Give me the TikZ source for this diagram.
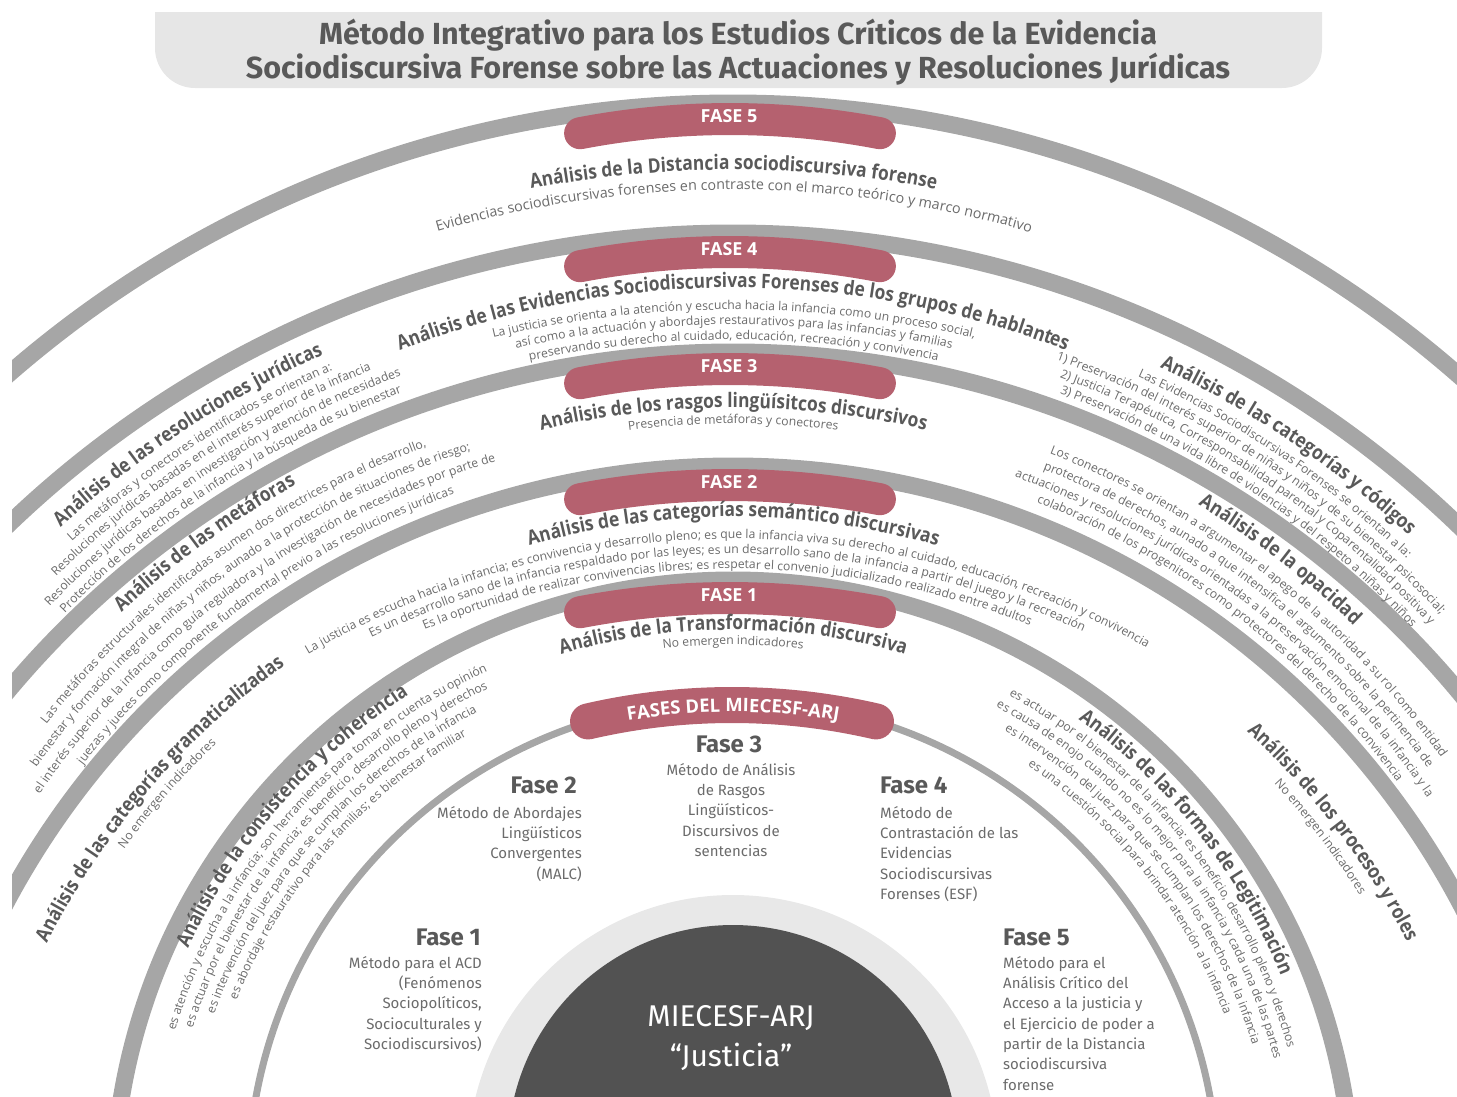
\documentclass[tikz,border=0pt]{standalone}
\usepackage{fontspec}
\setmainfont{Fira Sans}
\newfontfamily\arcfont{Open Sans}
\newfontfamily\arcbold[FakeStretch=0.87]{Open Sans}
\usetikzlibrary{decorations.text}

\definecolor{bandgray}{HTML}{A6A6A6}
\definecolor{rose}{HTML}{B5616F}
\definecolor{inkdark}{HTML}{595959}
\definecolor{inkbody}{HTML}{6B6B6B}
\definecolor{titlebg}{HTML}{E6E6E6}
\definecolor{ringlight}{HTML}{E8E8E8}
\definecolor{core}{HTML}{525252}

\newcommand{\ttl}{\color{inkdark}\arcbold\bfseries\fontsize{20}{22}\selectfont}
\newcommand{\bdy}{\color{inkbody}\arcfont\fontsize{12.2}{14}\selectfont}
\newcommand{\bdyL}{\color{inkbody}\arcfont\fontsize{14.3}{16}\selectfont}
\newcommand{\tagtx}{\color{white}\arcfont\bfseries\fontsize{18.5}{20}\selectfont}

% centre y, radius, middle angle, font, text
\newcommand{\arcline}[5]{%
	\path[decorate, decoration={text along path, text align=center, text={|#4|#5}}]
		([shift={(733,-#1)}]#3+70:#2pt) arc[start angle=#3+70, end angle=#3-70, radius=#2pt];}
% same, text starts at the given angle
\newcommand{\arcstart}[5]{%
	\path[decorate, decoration={text along path, text align=left, text={|#4|#5}}]
		([shift={(733,-#1)}]#3:#2pt) arc[start angle=#3, end angle=#3-100, radius=#2pt];}
% name, y of the middle of the pink cap, text
\newcommand{\faselabel}[3]{%
	\draw[rosecap] ([shift={(730,-#2-800)}]100.8:800pt) arc[start angle=100.8, end angle=79.2, radius=800pt];
	\node[fasetag] (#1) at (729,-#2+3) {#3};}

\tikzset{
	band/.style={draw=bandgray, line width=17pt},
	thinband/.style={draw=bandgray, line width=7pt},
	rosecap/.style={draw=rose, line width=32pt, line cap=round},
	fasetag/.style={text=white, font=\arcfont\bfseries\fontsize{18}{18}\selectfont, inner sep=0pt},
	fasehead/.style={text=inkdark, font=\bfseries\fontsize{24}{26}\selectfont, inner sep=0pt},
	metodo/.style={text=inkbody, font=\fontsize{15}{20.3}\selectfont, inner sep=0pt},
	coretext/.style={text=white, font=\fontsize{30}{32}\selectfont, inner sep=0pt}
}

\begin{document}
\begin{tikzpicture}[x=1pt, y=1pt]
	\useasboundingbox (0,0) rectangle (1457,-1096);

	\fill[titlebg] (155,-12) -- (155,-48) arc[start angle=180, end angle=270, radius=40pt] -- (1282,-88)
		arc[start angle=270, end angle=360, radius=40pt] -- (1322,-12) -- cycle;
	\node[align=center, text=inkdark, font=\bfseries\fontsize{30.5}{34}\selectfont] (heading) at (738,-52)
		{Método Integrativo para los Estudios Críticos de la Evidencia\\Sociodiscursiva Forense sobre las Actuaciones y Resoluciones Jurídicas};

	\begin{scope}
		\clip (12,0) rectangle (1457,-1096);
		\draw[band] (733,-1206) circle[radius=1103pt];
		\draw[band] (733,-1279) circle[radius=1046pt];
		\draw[band] (733,-1297) circle[radius=945pt];
		\draw[band] (733,-1289) circle[radius=823pt];
		\draw[band] (733,-1200) circle[radius=620pt];
		\draw[thinband] (733,-1185) circle[radius=485pt];
		\fill[ringlight] (733,-1160) circle[radius=265pt];
		\fill[core] (733,-1150) circle[radius=225pt];
	\end{scope}

	\faselabel{fase5tag}{119}{FASE 5}
	\faselabel{fase4tag}{252}{FASE 4}
	\faselabel{fase3tag}{369}{FASE 3}
	\faselabel{fase2tag}{485}{FASE 2}
	\faselabel{fase1tag}{598}{FASE 1}
	\draw[rosecap, line width=36pt] ([shift={(732,-1345)}]103:640pt) arc[start angle=103, end angle=77, radius=640pt];
	\arcline{1345}{633}{90}{\tagtx}{FASES DEL MIECESF-ARJ}

	% fase 5
	\arcline{1250}{1080}{90}{\ttl}{Análisis de la Distancia sociodiscursiva forense}
	\arcline{1250}{1060}{90}{\bdyL}{Evidencias sociodiscursivas forenses en contraste con el marco teórico y marco normativo}
	% fase 4
	\arcline{1205}{917}{90}{\ttl}{Análisis de las Evidencias Sociodiscursivas Forenses de los grupos de hablantes}
	\arcline{1350}{1040}{90}{\bdy}{La justicia se orienta a la atención y escucha hacia la infancia como un proceso social,}
	\arcline{1350}{1025}{90}{\bdy}{así como a la actuación y abordajes restaurativos para las infancias y familias}
	\arcline{1350}{1010}{90}{\bdy}{preservando su derecho al cuidado, educación, recreación y convivencia}
	\arcline{1265}{998}{123.3}{\ttl}{Análisis de las resoluciones jurídicas}
	\arcline{1265}{980}{123.3}{\bdy}{Las metáforas y conectores identificados se orientan a:}
	\arcline{1265}{965}{123.3}{\bdy}{Resoluciones jurídicas basadas en el interés superior de la infancia}
	\arcline{1265}{949}{123.3}{\bdy}{Resoluciones jurídicas basadas en investigación y atención de necesidades}
	\arcline{1265}{933}{123.3}{\bdy}{Protección de los derechos de la infancia y la búsqueda de su bienestar}
	\arcline{1265}{994}{55.9}{\ttl}{Análisis de las categorías y códigos}
	\arcline{1265}{976}{55.95}{\bdy}{Las Evidencias Sociodiscursivas Forenses se orientan a la:}
	\arcstart{1265}{961}{70.36}{\bdy}{1) Preservación del interés superior de niñas y niños y de su bienestar psicosocial;}
	\arcstart{1265}{946}{69.8}{\bdy}{2) Justicia Terapéutica, Corresponsabilidad parental y Coparentalidad positiva y}
	\arcstart{1265}{931}{69.44}{\bdy}{3) Preservación de una vida libre de violencias y del respeto a niñas y niños}
	% fase 3
	\arcline{1250}{842}{90}{\ttl}{Análisis de los rasgos lingüísitcos discursivos}
	\arcline{1250}{826}{90}{\bdy}{Presencia de metáforas y conectores}
	\arcline{1265}{894}{126.2}{\ttl}{Análisis de las metáforas}
	\arcline{1265}{874}{126.2}{\bdy}{Las metáforas estructurales identificadas asumen dos directrices para el desarrollo,}
	\arcline{1265}{856}{126.2}{\bdy}{bienestar y formación integral de niñas y niños, aunado a la protección de situaciones de riesgo;}
	\arcline{1265}{838}{126.2}{\bdy}{el interés superior de la infancia como guía reguladora y la investigación de necesidades por parte de}
	\arcline{1265}{820}{126.2}{\bdy}{juezas y jueces como componente fundamental previo a las resoluciones jurídicas}
	\arcline{1265}{891}{52.2}{\ttl}{Análisis de la opacidad}
	\arcline{1265}{871}{52.2}{\bdy}{Los conectores se orientan a argumentar el apego de la autoridad a su rol como entidad}
	\arcline{1265}{854}{52.2}{\bdy}{protectora de derechos, aunado a que intensifica el argumento sobre la pertinencia de}
	\arcline{1265}{837}{52.2}{\bdy}{actuaciones y resoluciones jurídicas orientadas a la preservación emocional de la infancia y la}
	\arcline{1265}{821}{52.2}{\bdy}{colaboración de los progenitores como protectores del derecho de la convivencia}
	% fase 2
	\arcline{1250}{733}{90}{\ttl}{Análisis de las categorías semántico discursivas}
	\arcline{1380}{841}{90.5}{\bdy}{La justicia es escucha hacia la infancia; es convivencia y desarrollo pleno; es que la infancia viva su derecho al cuidado, educación, recreación y convivencia}
	\arcline{1380}{826}{90.5}{\bdy}{Es un desarrollo sano de la infancia respaldado por las leyes; es un desarrollo sano de la infancia a partir del juego y la recreación}
	\arcline{1380}{811}{90.5}{\bdy}{Es la oportunidad de realizar convivencias libres; es respetar el convenio judicializado realizado entre adultos}
	\arcline{1289}{768}{139.5}{\ttl}{Análisis de las categorías gramaticalizadas}
	\arcline{1289}{751}{138.8}{\bdy}{No emergen indicadores}
	\arcline{1289}{758}{37.3}{\ttl}{Análisis de los procesos y roles}
	\arcline{1289}{740}{37.6}{\bdy}{No emergen indicadores}
	% fase 1
	\arcline{1250}{620}{90}{\ttl}{Análisis de la Transformación discursiva}
	\arcline{1250}{605}{90}{\bdy}{No emergen indicadores}
	\arcline{1200}{600}{139}{\ttl}{Análisis de la consistencia y coherencia}
	\arcline{1200}{583}{139}{\bdy}{es atención y escucha a la infancia; son herramientas para tomar en cuenta su opinión}
	\arcline{1200}{567}{139}{\bdy}{es actuar por el bienestar de la infancia; es beneficio, desarrollo pleno y derechos}
	\arcline{1200}{551}{139}{\bdy}{es intervención del juez para que se cumplan los derechos de la infancia}
	\arcline{1200}{535}{139}{\bdy}{es abordaje restaurativo para las familias; es bienestar familiar}
	\arcline{1200}{592}{38.3}{\ttl}{Análisis de las formas de Legitimación}
	\arcline{1200}{575}{38.3}{\bdy}{es actuar por el bienestar de la infancia; es beneficio, desarrollo pleno y derechos}
	\arcline{1200}{559}{38.3}{\bdy}{es causa de enojo cuando no es lo mejor para la infancia y cada una de las partes}
	\arcline{1200}{542}{38.3}{\bdy}{es intervención del juez para que se cumplan los derechos de la infancia}
	\arcline{1200}{525}{38.3}{\bdy}{es una cuestión social para brindar atención a la infancia}

	\node[fasehead, anchor=base] (f3head) at (729,-752) {Fase 3};
	\node[metodo, align=center, anchor=north] (f3text) at (731,-763) {Método de Análisis\\de Rasgos\\Lingüísticos-\\Discursivos de\\sentencias};
	\node[fasehead, anchor=base east] (f2head) at (577,-793) {Fase 2};
	\node[metodo, align=right, anchor=north east] (f2text) at (582,-806) {Método de Abordajes\\Lingüísticos\\Convergentes\\(MALC)};
	\node[fasehead, anchor=base west] (f4head) at (880,-793) {Fase 4};
	\node[metodo, align=left, anchor=north west] (f4text) at (880,-806) {Método de\\Contrastación de las\\Evidencias\\Sociodiscursivas\\Forenses (ESF)};
	\node[fasehead, anchor=base east] (f1head) at (481,-945) {Fase 1};
	\node[metodo, align=right, anchor=north east] (f1text) at (482,-956) {Método para el ACD\\(Fenómenos\\Sociopolíticos,\\Socioculturales y\\Sociodiscursivos)};
	\node[fasehead, anchor=base west] (f5head) at (1003,-945) {Fase 5};
	\node[metodo, align=left, anchor=north west] (f5text) at (1003,-956) {Método para el\\Análisis Crítico del\\Acceso a la justicia y\\el Ejercicio de poder a\\partir de la Distancia\\sociodiscursiva\\forense};

	\node[coretext] (corename) at (731,-1018) {MIECESF-ARJ};
	\node[coretext] (coremotto) at (731,-1057) {“Justicia”};
\end{tikzpicture}
\end{document}
